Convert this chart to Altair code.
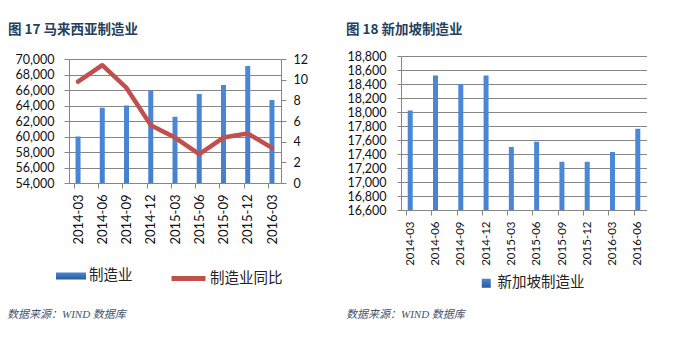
import json
import altair as alt
import pandas as pd

# ---------------- data ----------------
my_labels = ["2014-03", "2014-06", "2014-09", "2014-12", "2015-03",
             "2015-06", "2015-09", "2015-12", "2016-03"]
my_mfg = [60000, 63700, 64000, 65950, 62550, 65500, 66650, 69100, 64700]
my_yoy = [9.8, 11.4, 9.2, 5.6, 4.4, 2.8, 4.4, 4.8, 3.4]

sg_labels = ["2014-03", "2014-06", "2014-09", "2014-12", "2015-03",
             "2015-06", "2015-09", "2015-12", "2016-03", "2016-06"]
sg_mfg = [18020, 18520, 18400, 18520, 17500, 17575, 17290, 17290, 17430, 17760]

title_left = "图 17 马来西亚制造业"
title_right = "图 18 新加坡制造业"
series_my_bar = "制造业"
series_my_line = "制造业同比"
series_sg_bar = "新加坡制造业"
source_text = "数据来源：WIND 数据库"

# ---------------- style ----------------
NUM_FONT = "Lato"
CJK_FONT = "Noto Sans CJK SC"
GRAY = "#868686"
RED = "#C0504D"
TITLE_COLOR = "#243F60"
SRC_COLOR = "#44546A"
GRAD = {"gradient": "linear", "x1": 0, "x2": 0, "y1": 0, "y2": 1,
        "stops": [{"offset": 0, "color": "#4A88D8"},
                  {"offset": 1, "color": "#2B5896"}]}


def month_index(lbl, base):
    y, m = map(int, lbl.split("-"))
    by, bm = map(int, base.split("-"))
    return (y - by) * 12 + (m - bm)


def make_df(labels, values, extra=None):
    m = [month_index(l, labels[0]) for l in labels]
    d = {"label": labels, "m": m, "pos": [v + 0.5 for v in m], "val": values}
    if extra:
        d.update(extra)
    return pd.DataFrame(d)


def x_enc(labels, width, font_size):
    bounds = [month_index(l, labels[0]) for l in labels]
    n_months = bounds[-1] + 1
    slot = width / n_months
    expr = json.dumps(labels) + "[round(datum.value / 3)]"
    return alt.X(
        "pos:Q",
        scale=alt.Scale(domain=[0, n_months], nice=False, zero=False),
        axis=alt.Axis(values=bounds, labelExpr=expr, title=None, grid=False,
                      labelAngle=-90, labelAlign="right", labelBaseline="middle",
                      labelOffset=slot / 2, labelPadding=6, tickSize=5,
                      labelOverlap=False, labelFlush=False, labelBound=False,
                      domainColor=GRAY, tickColor=GRAY, labelColor="#111",
                      labelFont=NUM_FONT, labelFontSize=font_size))


def src_layer(dx, dy):
    return alt.Chart(pd.DataFrame({"t": [source_text]})).mark_text(
        align="left", baseline="middle", font="Liberation Serif, Noto Sans CJK SC",
        fontStyle="italic", fontSize=11, color=SRC_COLOR
    ).encode(x=alt.value(dx), y=alt.value(dy), text="t:N")


# ---------------- left: Malaysia ----------------
df_my = make_df(my_labels, my_mfg,
                {"yoy": my_yoy, "s1": series_my_bar, "s2": series_my_line})
W1, H1, TOP1 = 212, 127, 3
x_my = x_enc(my_labels, W1, 13)

bars_my = alt.Chart(df_my).mark_bar(color=GRAD, size=5, clip=True).encode(
    x=x_my,
    y=alt.Y("val:Q",
            scale=alt.Scale(domain=[54000, 70000], range=[H1, TOP1],
                            nice=False, zero=False),
            axis=alt.Axis(values=list(range(54000, 70001, 2000)), format=",.0f",
                          title=None, grid=True, gridColor=GRAY, tickSize=5,
                          labelPadding=10, domainColor=GRAY, tickColor=GRAY,
                          labelColor="#111", labelFont=NUM_FONT, labelFontSize=12.5)),
    opacity=alt.Opacity("s1:N", scale=alt.Scale(range=[1, 1]),
                        legend=alt.Legend(orient="none", legendX=-13, legendY=205,
                                          title=None, padding=0,
                                          symbolType="M-1,-0.233H1V0.233H-1Z",
                                          symbolSize=900, symbolStrokeWidth=0,
                                          labelFont=CJK_FONT, labelFontSize=14.5,
                                          labelColor="#222", labelOffset=3)),
)

line_my = alt.Chart(df_my).mark_line(strokeWidth=4.5, strokeCap="round",
                                     strokeJoin="round").encode(
    x=x_my,
    y=alt.Y("yoy:Q", scale=alt.Scale(domain=[0, 12], range=[H1, TOP1],
                                     nice=False, zero=True),
            axis=alt.Axis(orient="right", values=list(range(0, 13, 2)), title=None,
                          grid=False, tickSize=5, labelPadding=7,
                          domainColor=GRAY, tickColor=GRAY, labelColor="#111",
                          labelFont=NUM_FONT, labelFontSize=12.5)),
    stroke=alt.Stroke("s2:N", scale=alt.Scale(domain=[series_my_line], range=[RED]),
                      legend=alt.Legend(orient="none", legendX=100, legendY=203,
                                        title=None, padding=0, symbolType="stroke",
                                        symbolSize=1156, symbolStrokeWidth=5,
                                        labelFont=CJK_FONT, labelFontSize=14.5,
                                        labelColor="#222", labelOffset=2)),
)

left = alt.layer(bars_my, line_my, src_layer(-62, 258.5)).resolve_scale(
    y="independent").properties(
    width=W1, height=H1,
    title=alt.Title(title_left, anchor="start", frame="group", dx=-61, offset=17,
                    font=CJK_FONT, fontSize=13.5, fontWeight="bold", color=TITLE_COLOR))

# ---------------- right: Singapore ----------------
df_sg = make_df(sg_labels, sg_mfg, {"s1": series_sg_bar})
W2, H2 = 246, 154

bars_sg = alt.Chart(df_sg).mark_bar(color=GRAD, size=5, clip=True).encode(
    x=x_enc(sg_labels, W2, 11.5),
    y=alt.Y("val:Q",
            scale=alt.Scale(domain=[16600, 18800], nice=False, zero=False),
            axis=alt.Axis(values=list(range(16600, 18801, 200)), format=",.0f",
                          title=None, grid=True, gridColor=GRAY, tickSize=4,
                          labelPadding=11, domainColor=GRAY, tickColor=GRAY,
                          labelColor="#111", labelFont=NUM_FONT, labelFontSize=12.5)),
    opacity=alt.Opacity("s1:N", scale=alt.Scale(range=[1, 1]),
                        legend=alt.Legend(orient="none", legendX=78, legendY=220,
                                          title=None, padding=0, symbolType="square",
                                          symbolSize=81, symbolStrokeWidth=0,
                                          labelFont=CJK_FONT, labelFontSize=14.5,
                                          labelColor="#222", labelOffset=4)),
)

right = alt.layer(bars_sg, src_layer(-55, 258.5)).properties(
    width=W2, height=H2,
    title=alt.Title(title_right, anchor="start", frame="group", dx=-55, offset=14,
                    font=CJK_FONT, fontSize=13.5, fontWeight="bold", color=TITLE_COLOR))

chart = alt.hconcat(left, right, spacing=38).resolve_scale(
    opacity="independent", stroke="independent"
).resolve_legend(
    opacity="independent", stroke="independent"
).properties(
    padding={"left": 7, "top": 22, "right": 0, "bottom": 0},
    background="white",
).configure_view(stroke=None)

chart.save("out.html", embed_options={"renderer": "svg", "actions": False})
